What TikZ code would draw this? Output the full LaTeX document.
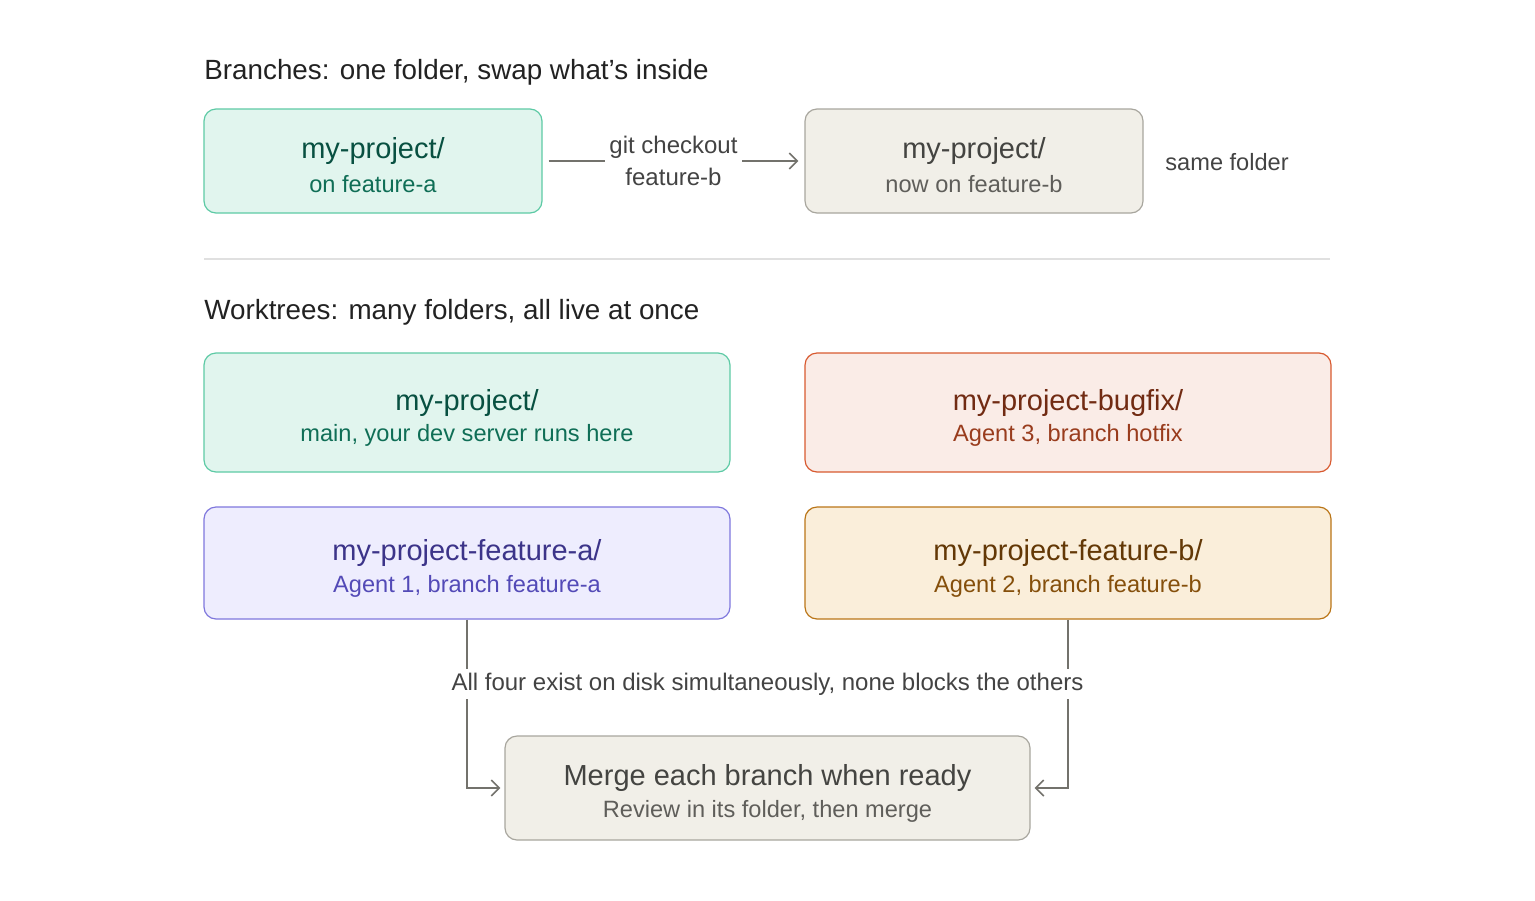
\documentclass[tikz,border=0pt]{standalone}
\usepackage{fontspec}
\setmainfont{Liberation Sans}
\usetikzlibrary{arrows.meta}
\definecolor{gF}{HTML}{E1F5EE}\definecolor{gB}{HTML}{5DCAA5}\definecolor{gT}{HTML}{085041}\definecolor{gS}{HTML}{0F6E56}
\definecolor{nF}{HTML}{F1EFE8}\definecolor{nB}{HTML}{A8A69E}\definecolor{nT}{HTML}{444441}\definecolor{nS}{HTML}{5F5E5A}
\definecolor{rF}{HTML}{FAECE7}\definecolor{rB}{HTML}{D85A30}\definecolor{rT}{HTML}{712B13}\definecolor{rS}{HTML}{993C1D}
\definecolor{pF}{HTML}{EEEDFE}\definecolor{pB}{HTML}{7F77DD}\definecolor{pT}{HTML}{3C3489}\definecolor{pS}{HTML}{534AB7}
\definecolor{aF}{HTML}{FAEEDA}\definecolor{aB}{HTML}{BA7517}\definecolor{aT}{HTML}{633806}\definecolor{aS}{HTML}{854F0B}
\definecolor{ln}{HTML}{73726C}\definecolor{tx}{HTML}{222222}
\tikzset{
 box/.style n args={3}{draw=#2,fill=#1,line width=0.6pt,rounded corners=6pt},
 ttl/.style={font=\fontsize{14.5}{17}\selectfont,text=#1},
 sub/.style={font=\fontsize{11.8}{14}\selectfont,text=#1},
 head/.style={font=\fontsize{13.9}{16}\selectfont,text=tx,anchor=west,inner sep=0pt},
 lab/.style={font=\fontsize{12}{16}\selectfont,text=tx!85,fill=white,inner sep=2pt,align=center},
 conn/.style={draw=ln,line width=0.8pt,-{Straight Barb[length=4pt,width=8pt]}},
}
\begin{document}
\begin{tikzpicture}[x=0.5pt,y=-0.5pt]
\useasboundingbox (0,0) rectangle (1535,900);
\newcommand{\mybox}[9]{%
 \node[box={#6}{#7}{},minimum width=#3*0.5pt,minimum height=#4*0.5pt,inner sep=0pt] (#1) at (#2) {};
 \node[ttl=#8] (#1t) at ([yshift=10*0.5pt]#1.center) {#5};
 \node[sub=#9] (#1s) at ([yshift=-23*0.5pt]#1.center) {\mysub};}
\node[head] (h1) at (204,72) {Branches: one folder, swap what's inside};
\def\mysub{on feature-a}\mybox{A}{373,161}{338}{104}{my-project/}{gF}{gB}{gT}{gS}
\def\mysub{now on feature-b}\mybox{B}{974,161}{338}{104}{my-project/}{nF}{nB}{nT}{nS}
\node[font=\fontsize{11.8}{14}\selectfont,text=tx!85,anchor=west,inner sep=0pt] (sf) at (1165,162) {same folder};
\draw[conn] ([xshift=3pt]A.east) -- node[lab] (gc) {git checkout\\feature-b} ([xshift=-3pt]B.west);
\coordinate (s1) at (204,259); \coordinate (s2) at (1330,259);
\draw[black!12,line width=0.6pt] (s1) -- (s2);
\node[head] (h2) at (204,312) {Worktrees: many folders, all live at once};
\def\mysub{main, your dev server runs here}\mybox{C}{467,412.5}{526}{119}{my-project/}{gF}{gB}{gT}{gS}
\def\mysub{Agent 3, branch hotfix}\mybox{D}{1068,412.5}{526}{119}{my-project-bugfix/}{rF}{rB}{rT}{rS}
\def\mysub{Agent 1, branch feature-a}\mybox{E}{467,563}{526}{112}{my-project-feature-a/}{pF}{pB}{pT}{pS}
\def\mysub{Agent 2, branch feature-b}\mybox{F}{1068,563}{526}{112}{my-project-feature-b/}{aF}{aB}{aT}{aS}
\def\mysub{Review in its folder, then merge}\mybox{G}{767.5,788}{525}{104}{Merge each branch when ready}{nF}{nB}{nT}{nS}
\draw[conn] (E.south) |- ([xshift=-2pt]G.west);
\draw[conn] (F.south) |- ([xshift=2pt]G.east);
\node[lab] (all) at (767.5,684) {All four exist on disk simultaneously, none blocks the others};
\end{tikzpicture}
\end{document}
